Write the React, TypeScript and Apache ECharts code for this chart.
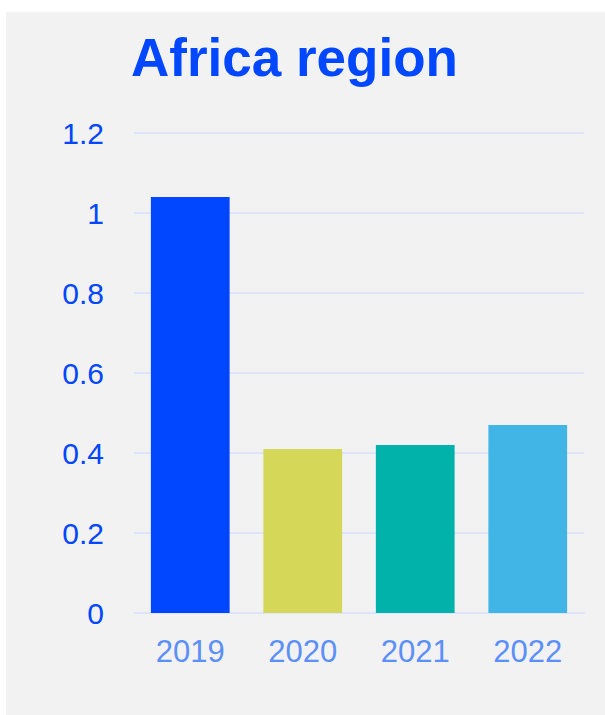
import React, { useEffect, useRef } from "react";
import * as echarts from "echarts";

const categories = ["2019", "2020", "2021", "2022"];
const values = [1.04, 0.41, 0.42, 0.47];
const barColors = ["#0047FF", "#D4D757", "#00B2A9", "#41B6E6"];
const titleText = "Africa region";

export default function App() {
  const ref = useRef<HTMLDivElement>(null);
  useEffect(() => {
    const chart = echarts.init(ref.current!, null, { renderer: "svg" });
    chart.setOption({
      animation: false,
      backgroundColor: "#ffffff",
      graphic: [
        {
          type: "rect",
          z: -10,
          silent: true,
          shape: { x: 6, y: 12, width: 599, height: 703 },
          style: { fill: "#F2F2F2" },
        },
        {
          type: "text",
          x: 131,
          y: 57,
          style: {
            text: titleText,
            fill: "#0047FF",
            font: "bold 53px 'Liberation Sans', Arial, sans-serif",
            verticalAlign: "middle",
            align: "left",
          },
        },
      ],
      grid: { left: 134, right: 21, top: 133, bottom: 102, containLabel: false },
      xAxis: {
        type: "category",
        data: categories,
        axisLine: { show: true, lineStyle: { color: "#DCE5FB", width: 2 } },
        axisTick: { show: false },
        axisLabel: {
          color: "#5B8FF9",
          fontSize: 31,
          fontFamily: "'Liberation Sans', Arial, sans-serif",
          margin: 23,
        },
      },
      yAxis: {
        type: "value",
        min: 0,
        max: 1.2,
        interval: 0.2,
        axisLine: { show: false },
        axisTick: { show: false },
        splitLine: { lineStyle: { color: "#DCE5FB", width: 2 } },
        axisLabel: {
          color: "#0047FF",
          fontSize: 30,
          fontFamily: "'Liberation Sans', Arial, sans-serif",
          margin: 30,
          formatter: (v: number) => String(Math.round(v * 10) / 10),
        },
      },
      series: [
        {
          type: "bar",
          barWidth: "70%",
          data: values.map((v, i) => ({ value: v, itemStyle: { color: barColors[i] } })),
        },
      ],
    });
    return () => chart.dispose();
  }, []);
  return (
    <div
      ref={ref}
      style={{ position: "absolute", left: 0, top: 0, width: 605, height: 715 }}
    />
  );
}
